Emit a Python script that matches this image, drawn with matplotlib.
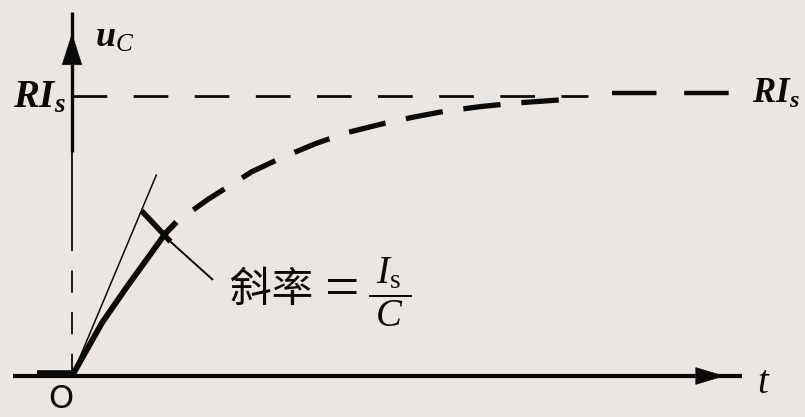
import matplotlib

matplotlib.use("Agg")
import matplotlib.pyplot as plt

plt.rcParams["mathtext.fontset"] = "custom"
plt.rcParams["mathtext.rm"] = "Liberation Serif"
plt.rcParams["mathtext.it"] = "Liberation Serif:italic"
plt.rcParams["mathtext.bf"] = "Liberation Serif:bold:italic"
plt.rcParams["lines.scale_dashes"] = False
plt.rcParams["lines.solid_capstyle"] = "butt"
plt.rcParams["lines.dash_capstyle"] = "butt"

INK = "#0a0a0a"
PAPER = "#ebe6e2"

# capacitor voltage u_C(t) (t in tau, u in R*I_s)
curve_t = [0.0, 0.25, 0.46, 0.78, 0.87, 1.13, 1.50, 1.75, 2.03, 2.30, 2.58, 2.85, 3.10, 3.40, 3.70, 4.20]
curve_u = [0.0, 0.19, 0.32, 0.51, 0.55, 0.63, 0.73, 0.78, 0.83, 0.87, 0.90, 0.925, 0.945, 0.962, 0.975, 0.99]
solid_end = 4  # index where the curve turns dashed

# tangent at the origin and the pointer to the slope label
tangent_t = [0.0, 0.705]
tangent_u = [0.0, 0.72]
leader_t = [0.58, 0.82, 1.175]
leader_u = [0.59, 0.48, 0.343]

asymptote_u = 1.0
asym_left_t = [0.0, 4.3]
asym_right_t = [4.5, 5.55]

x_axis_t = [-0.49, 5.58]
y_axis_top = 1.30

# pixel mapping: origin at (72, 376), 120 px per tau, 280 px per R*I_s
W, H = 805, 417
OX, OY = 72, 376
PX_T, PX_U = 120.0, 280.0

fig = plt.figure(figsize=(W / 100, H / 100), dpi=100)
fig.patch.set_facecolor(PAPER)
ax = fig.add_axes([0, 0, 1, 1])
ax.set_facecolor(PAPER)
ax.set_xlim(-OX / PX_T, (W - OX) / PX_T)
ax.set_ylim(-(H - OY) / PX_U, OY / PX_U)
ax.axis("off")

# axes
ax.plot(x_axis_t, [0, 0], color=INK, lw=3.0)
ax.plot([-0.29, 0], [0.008, 0.008], color=INK, lw=5.5)
ax.annotate("", xy=(5.44, 0), xytext=(5.2, 0),
            arrowprops=dict(arrowstyle="-|>,head_length=1.0,head_width=0.3",
                            mutation_scale=20, color=INK, lw=0.5, shrinkA=0, shrinkB=0))
ax.plot([0, 0], [0.80, y_axis_top], color=INK, lw=2.4)
ax.plot([0, 0], [0.50, 0.80], color=INK, lw=1.3)
ax.plot([0, 0], [0.0, 0.50], color=INK, lw=1.3, ls=(0, (16, 14)))
ax.annotate("", xy=(0, 1.225), xytext=(0, 1.146),
            arrowprops=dict(arrowstyle="-|>,head_length=1.1,head_width=0.35",
                            mutation_scale=20, color=INK, lw=0.5, shrinkA=0, shrinkB=0))

# asymptote R*I_s
ax.plot(asym_left_t, [asymptote_u] * 2, color=INK, lw=2.0, ls=(0, (25, 19)))
ax.plot(asym_right_t, [asymptote_u + 0.01] * 2, color=INK, lw=3.2, ls=(0, (32, 20)))

# the charging curve: solid near the origin, dashed after
ax.plot(curve_t[:solid_end + 1], curve_u[:solid_end + 1], color=INK, lw=4.2)
ax.plot(curve_t[solid_end:], curve_u[solid_end:], color=INK, lw=3.8, ls=(27, (27, 15)))

# tangent and slope pointer
ax.plot(tangent_t, tangent_u, color=INK, lw=1.1)
ax.plot(leader_t[:2], leader_u[:2], color=INK, lw=4.0)
ax.plot(leader_t[1:], leader_u[1:], color=INK, lw=1.4)

# labels
ax.text(-0.05, 1.0, r"$\mathbf{RI}_{\mathbf{s}}$", ha="right", va="center", fontsize=28, color=INK)
ax.text(5.67, 1.01, r"$\mathbf{RI}_{\mathbf{s}}$", ha="left", va="center", fontsize=25, color=INK)
ax.text(0.19, 1.21, r"$\mathbf{u}_{C}$", ha="left", va="center", fontsize=26, color=INK)
ax.text(5.71, -0.02, r"$t$", ha="left", va="center", fontsize=28, color=INK)
ax.text(-0.09, -0.085, "O", ha="center", va="center", fontsize=23, color=INK,
        family="DejaVu Sans")
ax.text(1.32, 0.305, "斜率", ha="left", va="center", fontsize=30, color=INK,
        family=["Noto Sans CJK SC", "DejaVu Sans"])
ax.text(2.25, 0.30, "=", ha="center", va="center", fontsize=44, color=INK,
        family="Liberation Serif")
ax.text(2.65, 0.30, r"$\dfrac{\,I_{\mathrm{s}}\,}{\;C\;}$", ha="center", va="center",
        fontsize=28, color=INK)

fig.savefig("out.png", dpi=100, facecolor=PAPER)
